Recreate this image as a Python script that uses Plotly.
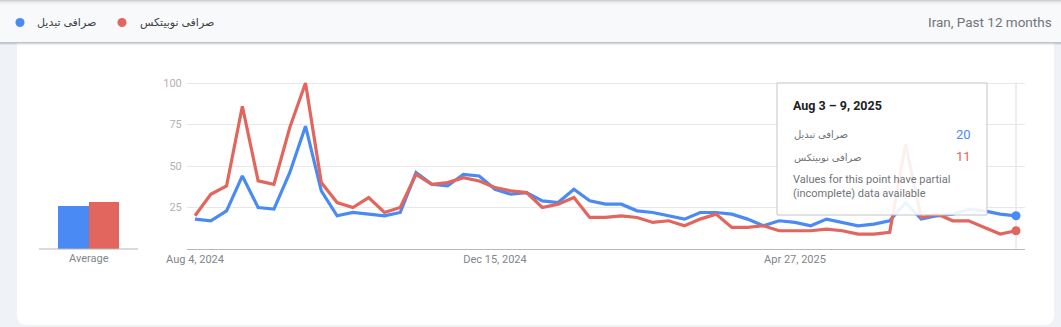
import pandas as pd
import plotly.graph_objects as go

W, H = 1061, 327

# ---------------- data ----------------
series_names = ["صرافی تبدیل", "صرافی نوبیتکس"]
first_week = "2024-08-04"
n_weeks = 53
week_dates = pd.date_range(first_week, periods=n_weeks, freq="7D")

tabdil = [18, 17, 23, 44, 25, 24, 46, 74, 35, 20, 22, 21, 20, 22, 46, 39, 38, 45,
          44, 36, 33, 34, 29, 28, 36, 29, 27, 27, 23, 22, 20, 18, 22, 22, 21, 18,
          14, 17, 16, 14, 18, 16, 14, 15, 17, 28, 18, 20, 21, 24, 23, 21, 20]
nobitex = [20, 33, 38, 86, 41, 39, 73, 100, 40, 28, 25, 31, 22, 25, 45, 39, 40, 43,
           41, 37, 35, 34, 25, 27, 31, 19, 19, 20, 19, 16, 17, 14, 18, 21, 13, 13,
           14, 11, 11, 11, 12, 11, 9, 9, 10, 63, 19, 21, 17, 17, 13, 9, 11]
averages = [26, 28]

y_ticks = [25, 50, 75, 100]
x_tick_dates = ["2024-08-04", "2024-12-15", "2025-04-27"]
x_tick_labels = ["Aug 4, 2024", "Dec 15, 2024", "Apr 27, 2025"]

header_right = "Iran, Past 12 months"
avg_label = "Average"
tip_title = "Aug 3 – 9, 2025"
tip_note = "Values for this point have partial<br>(incomplete) data available"

# ---------------- style ----------------
BLUE = "#4a8af4"
RED = "#e2665d"
FONT = "Roboto, Arial, sans-serif"
FA_FONT = "Tahoma, 'Noto Sans', 'DejaVu Sans', sans-serif"


def px(x):
    return x / W


def py(y):
    return 1 - y / H


fig = go.Figure()

# average bars
fig.add_trace(go.Bar(x=[0, 1], y=averages, marker=dict(color=[BLUE, RED], line=dict(width=0)),
                     width=1, xaxis="x2", yaxis="y2", showlegend=False, hoverinfo="skip"))

# main lines
for name, vals, col in [(series_names[0], tabdil, BLUE), (series_names[1], nobitex, RED)]:
    fig.add_trace(go.Scatter(x=week_dates, y=vals, mode="lines", name=name,
                             line=dict(color=col, width=3.2), showlegend=False, hoverinfo="skip"))
    fig.add_trace(go.Scatter(x=[week_dates[-1]], y=[vals[-1]], mode="markers",
                             marker=dict(color=col, size=9), showlegend=False,
                             hoverinfo="skip", cliponaxis=False))

day_px = 15.79 / 7
x0 = week_dates[0] - pd.Timedelta(days=(195 - 187) / day_px)
x1 = week_dates[-1] + pd.Timedelta(days=(1025 - 1016) / day_px)

ybot, ytop = 249, 249 - 101 * 1.66

shapes = []
# card
r = 10
L, R_, T, B = 17, 1054, 43, 325
path = (f"M {px(L)},{py(T)} L {px(R_)},{py(T)} L {px(R_)},{py(B - r)} "
        f"Q {px(R_)},{py(B)} {px(R_ - r)},{py(B)} L {px(L + r)},{py(B)} "
        f"Q {px(L)},{py(B)} {px(L)},{py(B - r)} Z")
shapes.append(dict(type="path", path=path, xref="paper", yref="paper",
                   fillcolor="white", line=dict(width=0), layer="below"))
# header strip
shapes.append(dict(type="rect", xref="paper", yref="paper", x0=0, x1=1, y0=py(43), y1=py(0),
                   fillcolor="#f8f9fa", line=dict(width=0), layer="below"))
for (a, b, c) in [(0, 1, "rgba(0,0,0,0.16)"), (1, 2, "rgba(0,0,0,0.09)"), (2, 4, "rgba(0,0,0,0.04)"),
                  (42, 43.5, "rgba(0,0,0,0.22)"), (43.5, 45, "rgba(0,0,0,0.07)")]:
    shapes.append(dict(type="rect", xref="paper", yref="paper", x0=0, x1=1, y0=py(b), y1=py(a),
                       fillcolor=c, line=dict(width=0), layer="below"))
# legend dots
for cx, col in [(20, BLUE), (122, RED)]:
    shapes.append(dict(type="circle", xref="paper", yref="paper", x0=px(cx - 4.5), x1=px(cx + 4.5),
                       y0=py(22.5 + 4.5), y1=py(22.5 - 4.5), fillcolor=col, line=dict(width=0),
                       layer="below"))
# hover line
shapes.append(dict(type="line", xref="x", yref="paper", x0=week_dates[-1], x1=week_dates[-1],
                   y0=py(249), y1=py(82), line=dict(color="#dcdcdc", width=1), layer="below"))
# tooltip box
shapes.append(dict(type="rect", xref="paper", yref="paper", x0=px(777), x1=px(987), y0=py(215),
                   y1=py(83), fillcolor="rgba(255,255,255,0.9)", line=dict(color="#c4c4c4", width=1),
                   layer="above"))
# average baseline
shapes.append(dict(type="line", xref="paper", yref="paper", x0=px(39), x1=px(138), y0=py(249),
                   y1=py(249), line=dict(color="#b5b5b5", width=1.2), layer="above"))

ann = []
ann.append(dict(text=series_names[0], x=px(35), y=py(22), xanchor="left", yanchor="middle",
                font=dict(family=FA_FONT, size=11, color="#3c4043")))
ann.append(dict(text=series_names[1], x=px(138), y=py(22), xanchor="left", yanchor="middle",
                font=dict(family=FA_FONT, size=11, color="#3c4043")))
ann.append(dict(text=header_right, x=px(1054), y=py(22), xanchor="right", yanchor="middle",
                font=dict(family=FONT, size=13.5, color="#70757a")))
ann.append(dict(text=avg_label, x=px(88.5), y=py(258), xanchor="center", yanchor="middle",
                font=dict(family=FONT, size=11, color="#80868b")))
ann.append(dict(text="<b>" + tip_title + "</b>", x=px(791), y=py(105), xanchor="left",
                yanchor="middle", font=dict(family=FONT, size=12.5, color="#202124")))
ann.append(dict(text=series_names[0], x=px(792), y=py(134), xanchor="left", yanchor="middle",
                font=dict(family=FA_FONT, size=10, color="#70757a")))
ann.append(dict(text=str(tabdil[-1]), x=px(973), y=py(134), xanchor="right", yanchor="middle",
                font=dict(family=FONT, size=13, color=BLUE)))
ann.append(dict(text=series_names[1], x=px(792), y=py(157), xanchor="left", yanchor="middle",
                font=dict(family=FA_FONT, size=10, color="#70757a")))
ann.append(dict(text=str(nobitex[-1]), x=px(973), y=py(157), xanchor="right", yanchor="middle",
                font=dict(family=FONT, size=13, color=RED)))
ann.append(dict(text=tip_note, x=px(791), y=py(186), xanchor="left", yanchor="middle", align="left",
                font=dict(family=FONT, size=11, color="#70757a")))
for a in ann:
    a.update(xref="paper", yref="paper", showarrow=False)

fig.update_layout(
    width=W, height=H, margin=dict(l=0, r=0, t=0, b=0, pad=0, autoexpand=False),
    paper_bgcolor="#eff3f8", plot_bgcolor="rgba(0,0,0,0)",
    font=dict(family=FONT),
    showlegend=False, shapes=shapes, annotations=ann, bargap=0,
    xaxis=dict(domain=[px(187), px(1025)], range=[x0, x1], tickvals=pd.to_datetime(x_tick_dates),
               ticktext=x_tick_labels, showgrid=False, zeroline=False, showline=True,
               linecolor="#b8b8b8", linewidth=1, ticks="", automargin=False,
               tickfont=dict(size=11, color="#80868b")),
    yaxis=dict(domain=[py(ybot), py(ytop)], range=[0, 101], tickvals=y_ticks, automargin=False,
               showgrid=True, gridcolor="#e8e8e8", gridwidth=1, zeroline=False, showline=False,
               ticks="outside", ticklen=2, tickcolor="rgba(0,0,0,0)",
               tickfont=dict(size=11, color="#b8b0b0")),
    xaxis2=dict(domain=[px(39), px(138)], range=[-1.118, 2.118], visible=False, anchor="y2",
                automargin=False),
    yaxis2=dict(domain=[py(ybot), py(ytop)], range=[0, 101], visible=False, anchor="x2",
                automargin=False),
)

fig.write_html("out.html")
